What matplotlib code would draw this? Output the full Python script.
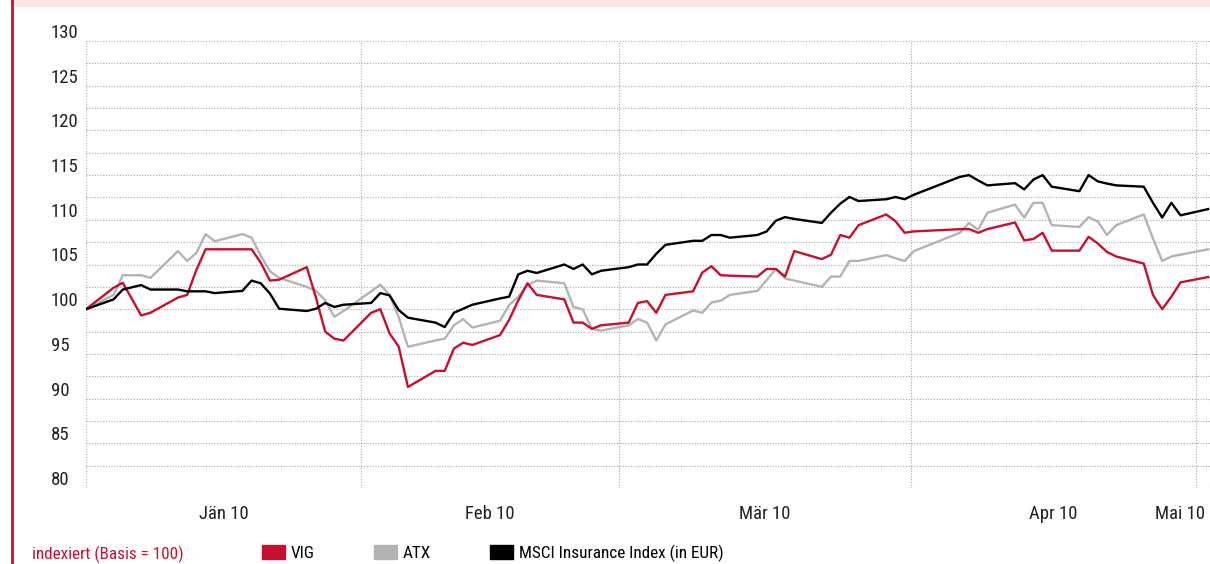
import numpy as np
import pandas as pd
import matplotlib
matplotlib.use('Agg')
import matplotlib.pyplot as plt
from matplotlib import font_manager
from matplotlib.patches import Patch, Rectangle
from matplotlib.lines import Line2D

# the original uses a condensed sans; take one if the machine has it
_fonts = font_manager.fontManager.ttflist
_names = {f.name for f in _fonts}
_cond = {f.name for f in _fonts if f.stretch in ('condensed', 'semi-condensed', 'extra-condensed')}
font_name, font_stretch = 'Liberation Sans', 'normal'
for n in ['Liberation Sans Narrow', 'Roboto Condensed', 'Open Sans Condensed', 'Noto Sans Condensed']:
    if n in _names:
        font_name = n
        break
else:
    for n in ['Roboto', 'Noto Sans', 'Open Sans', 'DejaVu Sans']:
        if n in _cond:
            font_name, font_stretch = n, 'condensed'
            break
plt.rcParams['font.family'] = [font_name, 'DejaVu Sans']
plt.rcParams['font.stretch'] = font_stretch

# trading days, Jan 1 is the base (=100); Vienna holidays left out
dates = pd.DatetimeIndex(['2010-01-01']).append(
    pd.bdate_range('2010-01-04', '2010-05-03', freq='C',
                   holidays=['2010-01-06', '2010-04-02', '2010-04-05']))

vig = [100, 102.4, 102.95, 99.3, 99.6, 101.3, 101.6, 104.4, 106.7, 106.7,
       106.7, 106.7, 105.2, 103.2, 103.3, 104.7, 101.3, 97.5, 96.7, 96.5,
       99.6, 100.0, 97.3, 95.8, 91.3, 93.1, 93.1, 95.6, 96.25, 96.0,
       97.1, 98.8, 101.0, 102.9, 101.6, 101.1, 98.5, 98.5, 97.8, 98.2,
       98.5, 100.7, 100.9, 99.6, 101.6, 102.0, 104.1, 104.8, 103.8, 103.75,
       103.65, 104.5, 104.5, 103.65, 106.5, 105.6, 106.1, 108.3, 108.0, 109.4,
       110.6, 109.85, 108.55,
       108.7, 108.95, 108.96, 108.55, 108.96, 109.7, 107.7, 107.85, 108.55, 106.55,
       106.55, 108.1, 107.35, 106.4, 105.9, 105.1, 101.6, 100.0, 101.4, 103.0,
       103.6]

atx = [100, 101.6, 103.8, 103.8, 103.5, 106.5, 105.4, 106.3, 108.4, 107.6,
       108.4, 108.0, 106.0, 104.25, 103.5, 102.5, 102.05, 101.0, 99.15, 99.8,
       102.0, 102.75, 101.6, 99.1, 95.8, 96.5, 96.7, 98.2, 98.9, 97.95,
       98.7, 100.45, 101.4, 102.7, 103.2, 102.9, 100.25, 100.0, 97.8, 97.6,
       98.2, 98.9, 98.5, 96.5, 98.3, 99.85, 99.6, 100.75, 100.95, 101.6,
       102.05, 103.25, 104.5, 103.45, 103.2, 102.5, 103.65, 103.65, 105.4, 105.4,
       106.05, 105.7, 105.4,
       106.5, 108.55, 109.65, 108.9, 110.8, 111.7, 110.25, 111.9, 111.9, 109.4,
       109.2, 110.3, 109.8, 108.3, 109.4, 110.6, 107.9, 105.4, 105.9, 106.1,
       106.7]

msci = [100, 101.1, 102.2, 102.7, 102.2, 102.2, 102.0, 102.0, 102.0, 101.8,
        102.05, 103.2, 102.9, 101.75, 100.05, 99.8, 100.05, 100.7, 100.25, 100.5,
        100.7, 101.8, 101.55, 99.9, 99.05, 98.5, 98.0, 99.6, 100.05, 100.5,
        101.2, 101.4, 103.9, 104.3, 104.05, 105.0, 104.5, 105.0, 103.9, 104.3,
        104.7, 105.0, 105.0, 106.2, 107.2, 107.65, 107.65, 108.3, 108.3, 108.0,
        108.3, 108.7, 109.9, 110.3, 110.1, 109.65, 110.8, 111.8, 112.55, 112.1,
        112.3, 112.55, 112.3,
        112.8, 114.8, 115.0, 114.4, 113.85, 114.1, 113.4, 114.5, 115.0, 113.7,
        113.2, 115.0, 114.3, 114.05, 113.85, 113.7, 111.9, 110.25, 111.9, 110.5,
        111.2]

month_labels = ['Jän 10', 'Feb 10', 'Mär 10', 'Apr 10', 'Mai 10']
y_labels = [80, 85, 90, 95, 100, 105, 110, 115, 120, 125, 130]

RED = '#c8102e'
GREY = '#b3b3b3'
GRID = '#a8a8a8'
TXT = '#222222'
FS = 13.5      # axis labels
FS_LEG = 12.3  # legend row

# x axis in days since Jan 1
days = (dates - pd.Timestamp('2010-01-01')).days
month_edges = [0, 29.9, 57.9, 89.7, 120.7]
label_pos = [15.0, 43.9, 73.8, 105.2, 118.9]

fig = plt.figure(figsize=(12.1, 5.64), dpi=100)
W, H = 1210, 564
ax = fig.add_axes([86 / W, 76 / H, 1124 / W, 447 / H])

# header band and red bar on the left
fig.add_artist(Rectangle((13 / W, 1 - 7 / H), 1, 7 / H, transform=fig.transFigure,
                         color='#f9e4e6', lw=0))
fig.add_artist(Line2D([12 / W, 12 / W], [0, 1], transform=fig.transFigure,
                      color=RED, lw=2))

# dotted grid
for v in np.arange(80, 130.1, 2.5):
    ax.axhline(v, color=GRID, lw=0.8, ls=(0, (1, 1.5)), zorder=0)
for d in month_edges:
    ax.axvline(d, color=GRID, lw=0.8, ls=(0, (1, 1.5)), zorder=0)

ax.plot(days, atx, color=GREY, lw=1.7, zorder=2)
ax.plot(days, vig, color=RED, lw=1.7, zorder=3)
ax.plot(days, msci, color='black', lw=1.7, zorder=4)

ax.set_xlim(0, 122.2)
ax.set_ylim(80, 130)
for s in ax.spines.values():
    s.set_visible(False)

# y labels sit a little above their grid line, left aligned
ax.set_yticks([])
for v in y_labels:
    ax.text(51 / W, v + 0.9, str(v), transform=ax.get_yaxis_transform().__class__(fig.transFigure, ax.transData),
            ha='left', va='center', fontsize=FS, color=TXT)

ax.set_xticks(label_pos, month_labels)
ax.tick_params(axis='x', length=0, pad=12, labelsize=FS, labelcolor=TXT)

# legend row
fig.text(32 / W, 1 - 554 / H, 'indexiert (Basis = 100)', color=RED, fontsize=FS_LEG,
         ha='left', va='center')
handles = [Patch(color=RED, label='VIG'), Patch(color=GREY, label='ATX'),
           Patch(color='black', label='MSCI Insurance Index (in EUR)')]
fig.legend(handles=handles, loc='center left', bbox_to_anchor=(262 / W, 1 - 553 / H),
           ncol=3, frameon=False, fontsize=FS_LEG, handlelength=1.35, handleheight=0.95,
           handletextpad=0.35, columnspacing=3.45, borderpad=0, borderaxespad=0)

fig.savefig('out.png', dpi=100)
